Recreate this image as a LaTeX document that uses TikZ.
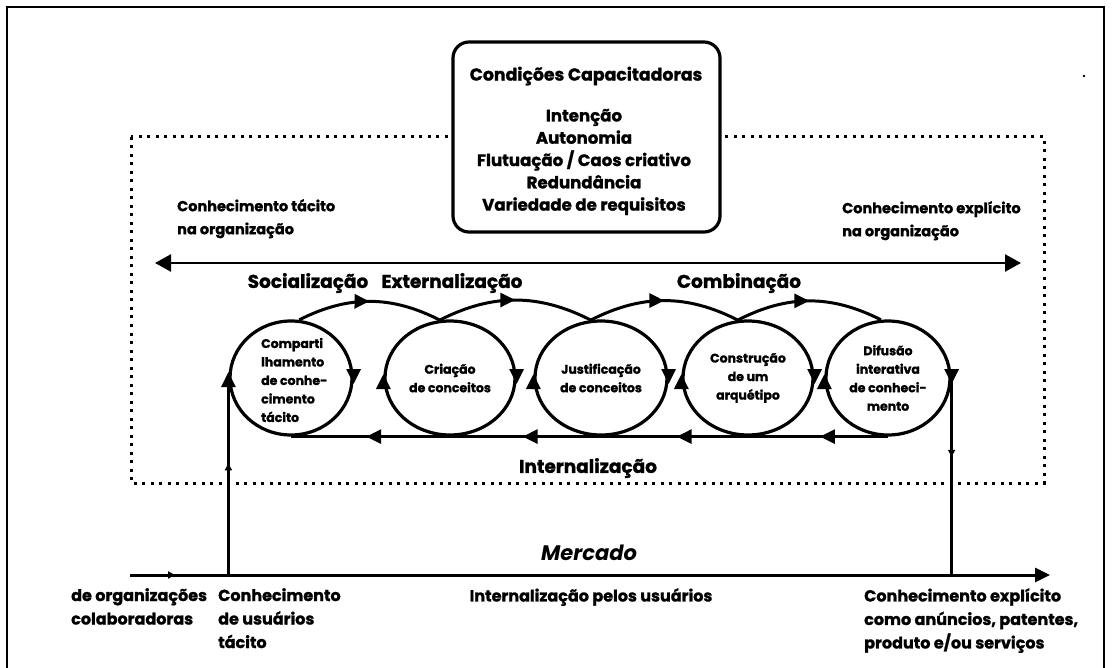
\documentclass[tikz,border=0pt]{standalone}
\usepackage{fontspec}
\setmainfont{Poppins}[BoldFeatures={FakeBold=1.3}]
\usetikzlibrary{arrows.meta,shapes.geometric,decorations.markings,calc}

\newcommand\stagefont{\bfseries\fontsize{12.5}{18.5}\selectfont}
\newcommand\sidefont{\bfseries\fontsize{14.5}{23}\selectfont}
\newcommand\modefont{\bfseries\fontsize{18.5}{22}\selectfont}
\newcommand\marketfont{\bfseries\fontsize{16}{23.5}\selectfont}

\tikzset{
  bigtip/.tip={Triangle[length=15pt,width=14pt]},
  axistip/.tip={Triangle[length=16pt,width=17pt]},
  smalltip/.tip={Triangle[length=7pt,width=7pt]},
  flow/.style={line width=3pt},
  stage/.style={ellipse, draw, line width=3.2pt, inner sep=0pt, align=center, font=\stagefont},
  orgline/.style={line width=3pt, dash pattern=on 3pt off 5.5pt},
  condbox/.style={draw, line width=3.2pt, rounded corners=16pt, fill=white,
                  minimum width=267pt, minimum height=190pt, inner sep=0pt},
  midarrow/.style={postaction={decorate},
    decoration={markings, mark=at position #1 with {\arrow{bigtip}}}},
  smallmid/.style={postaction={decorate},
    decoration={markings, mark=at position #1 with {\arrow{smalltip}}}},
  sidetip/.style={line width=3pt, -{bigtip}},
  label/.style={inner sep=0pt, align=left}
}

\begin{document}
\begin{tikzpicture}[x=1pt,y=-1pt]
\fill[white] (0,0) rectangle (1119,668);
\useasboundingbox (0,0) rectangle (1119,668);

% outer frame
\draw[line width=2pt] (7,672) -- (7,7) -- (1104,7) -- (1104,672);
\fill (1084,76) circle (1.3);

% organisation boundary
\draw[orgline] (131,137) rectangle (1044,483);

% enabling conditions
\node[condbox] (cond) at (586.5,137) {};
\node[font=\bfseries\fontsize{17.3}{20}\selectfont, inner sep=0pt] (condhead) at (586,76) {Condições Capacitadoras};
\node[font=\bfseries\fontsize{16.6}{22.3}\selectfont, align=center, inner sep=0pt] (condlist) at (584,162)
  {Intenção\\Autonomia\\Flutuação / Caos criativo\\Redundância\\Variedade de requisitos};

% tacit / explicit axis
\node[label, font=\sidefont, anchor=north west] (tacit) at (177,199) {Conhecimento tácito\\na organização};
\node[label, font=\sidefont, anchor=north west] (explicit) at (842,201) {Conhecimento explícito\\na organização};
\coordinate (axl) at (155,263);
\coordinate (axr) at (1021,263);
\draw[line width=2.5pt, {axistip}-{axistip}] (axl) -- (axr);

% conversion modes
\node[font=\modefont, inner sep=0pt] (soc) at (308,283) {Socialização};
\node[font=\modefont, inner sep=0pt] (ext) at (452,283) {Externalização};
\node[font=\modefont, inner sep=0pt] (comb) at (739,283) {Combinação};
\node[font=\modefont, inner sep=0pt] (int) at (588,468) {Internalização};

% the five phases
\node[stage, minimum width=122pt, minimum height=114pt] (c1) at (291,378) {};
\node[label, font=\stagefont, anchor=west] (c1txt) at (261,380) {Comparti\\lhamento\\de conhe-\\cimento\\tácito};
\node[stage, minimum width=130pt, minimum height=114pt] (c2) at (450,378) {Criação\\de conceitos};
\node[stage, minimum width=132pt, minimum height=114pt] (c3) at (601,378) {Justificação\\de conceitos};
\node[stage, minimum width=130pt, minimum height=114pt] (c4) at (748,378) {Construção\\de um\\arquétipo};
\node[stage, minimum width=124pt, minimum height=114pt] (c5) at (888,378) {Difusão\\interativa\\de conheci-\\mento};

% spiral over the tops
\draw[flow, midarrow=0.5] (c1.82) to[bend left=27] (c2.100);
\draw[flow, midarrow=0.5] (c2.100) to[bend left=27] (c3.100);
\draw[flow, midarrow=0.5] (c3.100) to[bend left=27] (c4.100);
\draw[flow, midarrow=0.5] (c4.100) to[bend left=27] (c5.97);

% directions on the sides of the phases
\foreach \c in {c1,c2,c3,c4,c5}
  \draw[sidetip] ([yshift=3pt]\c.east) -- ([yshift=-6pt]\c.east);
\foreach \c in {c2,c3,c4,c5}
  \draw[sidetip] ([yshift=-8pt]\c.west) -- ([yshift=4pt]\c.west);

% internalisation return line
\draw[flow, postaction={decorate}, decoration={markings,
    mark=at position 0.114 with {\arrow{bigtip}},
    mark=at position 0.354 with {\arrow{bigtip}},
    mark=at position 0.612 with {\arrow{bigtip}},
    mark=at position 0.874 with {\arrow{bigtip}}}]
  (c5.south) -- (c1.south);

% market
\coordinate (mkl) at (130,575);
\coordinate (mkr) at (1050,575);
\coordinate (jl) at (c1.west |- mkl);
\coordinate (jr) at (c5.east |- mkl);
\draw[flow, -{bigtip}, smallmid=0.049] (mkl) -- (mkr);
\draw[line width=2.5pt, -{bigtip}, smallmid=0.55] (jl) -- ([yshift=6pt]c1.west);
\draw[line width=2.5pt, smallmid=0.4] (c5.east) -- (jr);

\node[font=\bfseries\itshape\fontsize{21}{24}\selectfont, inner sep=0pt] (market) at (589,553) {Mercado};
\node[label, font=\marketfont, anchor=north west] (partners) at (71,588) {de organizações\\colaboradoras};
\node[label, font=\marketfont, anchor=north west] (users) at (218,588) {Conhecimento\\de usuários\\tácito};
\node[font=\marketfont, inner sep=0pt, anchor=north] (usersint) at (591,588) {Internalização pelos usuários};
\node[label, font=\marketfont, anchor=north west] (products) at (864,588) {Conhecimento explícito\\como anúncios, patentes,\\produto e/ou serviços};
\end{tikzpicture}
\end{document}
